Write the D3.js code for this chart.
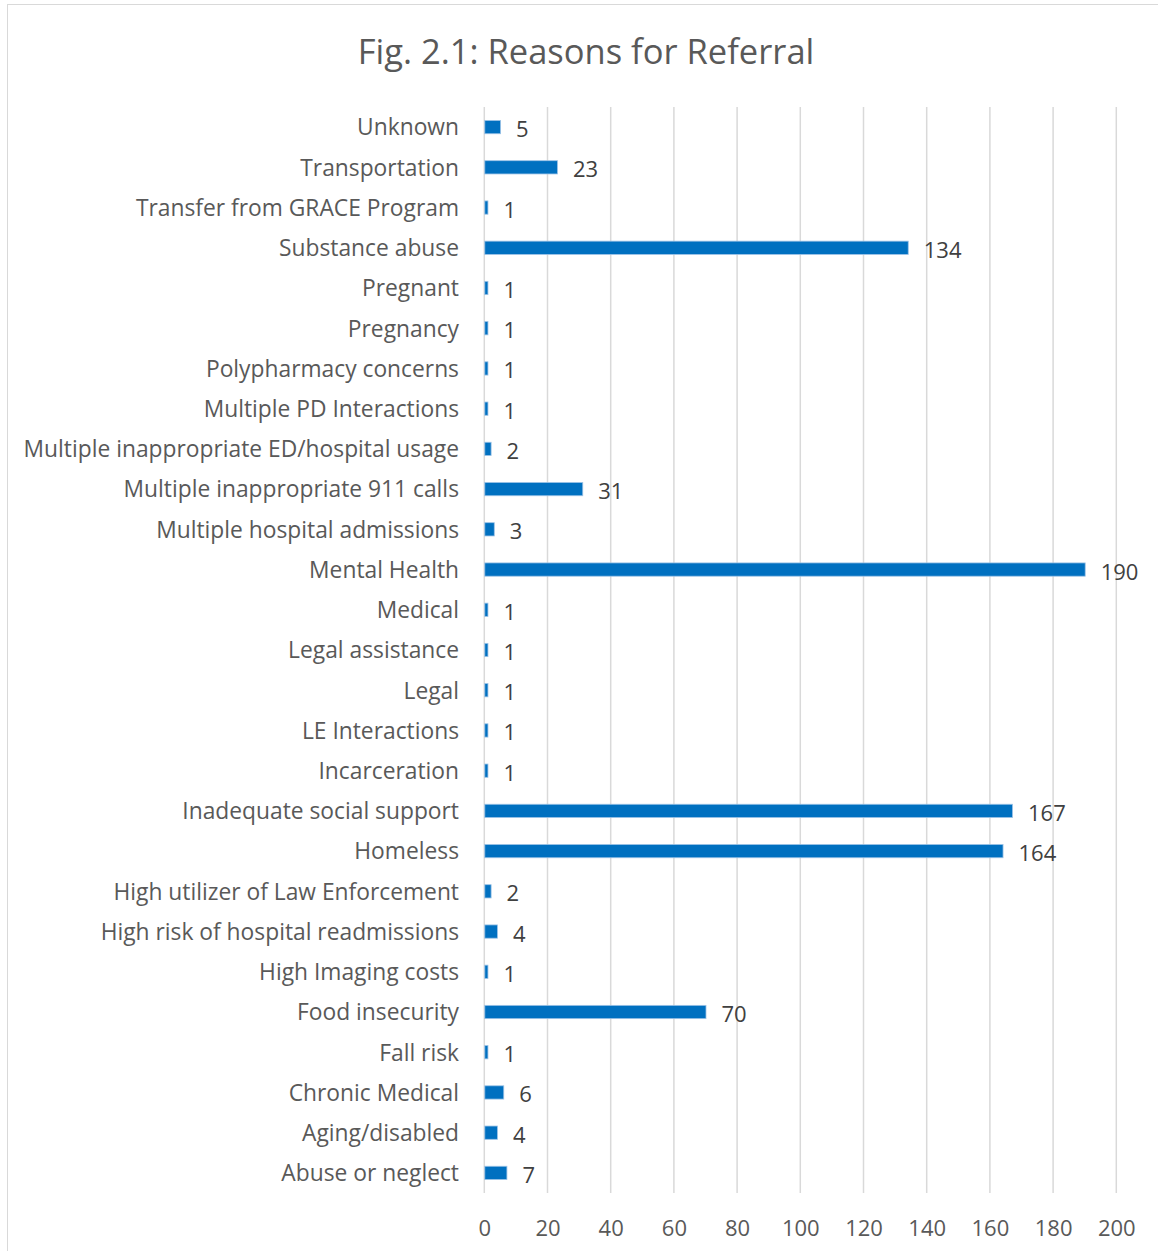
<!DOCTYPE html>
<html><head><meta charset="utf-8">
<script src="https://cdn.jsdelivr.net/npm/d3@7"></script>
<style>body{margin:0;background:#fff}svg{display:block}</style>
</head><body>
<script>
const categories = ["Unknown","Transportation","Transfer from GRACE Program","Substance abuse","Pregnant","Pregnancy","Polypharmacy concerns","Multiple PD Interactions","Multiple inappropriate ED/hospital usage","Multiple inappropriate 911 calls","Multiple hospital admissions","Mental Health","Medical","Legal assistance","Legal","LE Interactions","Incarceration","Inadequate social support","Homeless","High utilizer of Law Enforcement","High risk of hospital readmissions","High Imaging costs","Food insecurity","Fall risk","Chronic Medical","Aging/disabled","Abuse or neglect"];
const values = [5,23,1,134,1,1,1,1,2,31,3,190,1,1,1,1,1,167,164,2,4,1,70,1,6,4,7];
const xTicks = [0,20,40,60,80,100,120,140,160,180,200];
const title = "Fig. 2.1: Reasons for Referral";

const W = 1158, H = 1251;
const svg = d3.select("body").append("svg").attr("width", W).attr("height", H);
const font = "'Open Sans', 'Noto Sans', sans-serif";
const grey = "#595959";

svg.append("rect").attr("x",7.5).attr("y",4.5).attr("width",1151).attr("height",1260)
  .attr("fill","#fff").attr("stroke","#d9d9d9").attr("stroke-width",1);

svg.append("text").attr("x",586).attr("y",64).attr("text-anchor","middle")
  .attr("font-family",font).attr("font-size",34.5).attr("fill",grey).text(title);

const x = d3.scaleLinear().domain([0,200]).range([484.3,1116.3]);
const y = d3.scaleBand().domain(categories).range([107,1193]).paddingInner(0.67).paddingOuter(0.335);

const g = svg.append("g");
g.selectAll("line.grid").data(xTicks).join("line").attr("class","grid")
  .attr("x1",d=>x(d)).attr("x2",d=>x(d)).attr("y1",107).attr("y2",1193)
  .attr("stroke","#d9d9d9").attr("stroke-width",1.5);

const xAxis = d3.axisBottom(x).tickValues(xTicks).tickSize(0).tickPadding(0);
const ax = svg.append("g").attr("transform","translate(0,1193)").call(xAxis);
ax.select(".domain").remove();
ax.selectAll("text").attr("font-family",font).attr("font-size",22).attr("fill",grey).attr("dy",0).attr("y",43);

const yAxis = d3.axisLeft(y).tickSize(0).tickPadding(0);
const ay = svg.append("g").attr("transform","translate(459,0)").call(yAxis);
ay.select(".domain").remove();
ay.selectAll("text").attr("font-family",font).attr("font-size",22.8).attr("fill",grey).attr("dy","0.32em").attr("y",1);

const data = categories.map((c,i)=>({c, v: values[i]}));
g.selectAll("rect.bar").data(data).join("rect").attr("class","bar")
  .attr("x",x(0)+0.5).attr("y",d=>y(d.c)).attr("height",y.bandwidth())
  .attr("width",d=>x(d.v)-x(0)).attr("fill","#0070c0").attr("stroke","#9dc3e6").attr("stroke-width",0.8);

g.selectAll("text.val").data(data).join("text").attr("class","val")
  .attr("x",d=>x(d.v)+16).attr("y",d=>y(d.c)+y.bandwidth()/2+3).attr("dy","0.32em")
  .attr("font-family",font).attr("font-size",22).attr("fill","#404040").text(d=>d.v);
</script>
</body></html>
